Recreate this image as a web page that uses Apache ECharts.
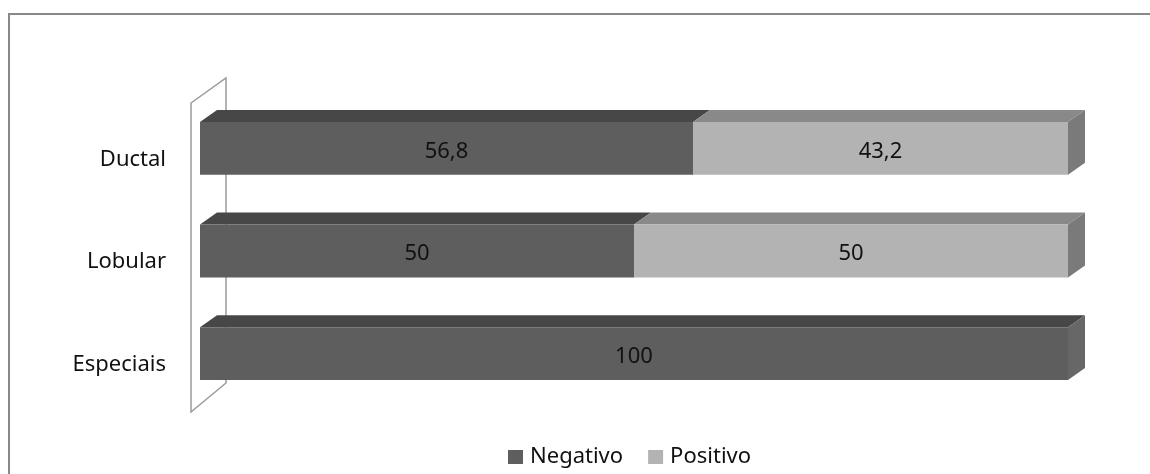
<!DOCTYPE html>
<html>
<head>
<meta charset="utf-8">
<script src="https://cdn.jsdelivr.net/npm/echarts@6/dist/echarts.min.js"></script>
<style>
  html, body { margin: 0; padding: 0; background: #fff; }
  #chart { width: 1150px; height: 474px; }
</style>
</head>
<body>
<div id="chart"></div>
<script>
// Tumour types and the share (%) of negative / positive cases
const categories = ['Ductal', 'Lobular', 'Especiais'];
const negativo = [56.8, 50, 100];
const positivo = [43.2, 50, 0];
const seriesNames = ['Negativo', 'Positivo'];

// Face colours for the pseudo-3D bars
const faces = {
  Negativo: { front: '#5e5e5e', top: '#474747', side: '#676767', legend: '#5e5e5e' },
  Positivo: { front: '#b3b3b3', top: '#898989', side: '#7a7a7a', legend: '#b3b3b3' }
};
const DX = 17, DY = -12;       // depth offset of the extruded faces
const FONT = 'Noto Sans';
const FONT_SIZE = 22;

function fmt(v) {
  return String(Math.round(v * 10) / 10).replace('.', ',');
}

function makeRender(name) {
  const f = faces[name];
  return function (params, api) {
    const x0 = api.value(0), x1 = api.value(1), c = api.value(2);
    if (x1 - x0 <= 0) return;
    const p0 = api.coord([x0, c]);
    const p1 = api.coord([x1, c]);
    const h = api.size([0, 1])[1] * 0.515;
    const top = p0[1] - h / 2;
    const left = p0[0], right = p1[0];
    const children = [
      {
        type: 'polygon',
        shape: { points: [[left, top], [left + DX, top + DY], [right + DX, top + DY], [right, top]] },
        style: { fill: f.top }
      },
      {
        type: 'rect',
        shape: { x: left, y: top, width: right - left, height: h },
        style: { fill: f.front }
      }
    ];
    if (x1 >= 100) {
      children.push({
        type: 'polygon',
        shape: { points: [[right, top], [right + DX, top + DY], [right + DX, top + h + DY], [right, top + h]] },
        style: { fill: f.side }
      });
    }
    children.push({
      type: 'text',
      style: {
        text: fmt(x1 - x0),
        x: (left + right) / 2,
        y: top + h / 2 + 3,
        align: 'center',
        verticalAlign: 'middle',
        fill: '#111',
        font: FONT_SIZE + 'px "' + FONT + '"'
      }
    });
    return { type: 'group', children: children };
  };
}

const negData = negativo.map((v, i) => [0, v, i]);
const posData = positivo.map((v, i) => [negativo[i], negativo[i] + v, i]);

const chart = echarts.init(document.getElementById('chart'), null, { renderer: 'canvas' });

chart.setOption({
  animation: false,
  backgroundColor: '#fff',
  textStyle: { fontFamily: FONT },
  grid: { left: 200, right: 82, top: 97, bottom: 69 },
  xAxis: {
    type: 'value', min: 0, max: 100,
    show: false
  },
  yAxis: {
    type: 'category',
    data: categories,
    inverse: true,
    axisLine: { show: false },
    axisTick: { show: false },
    splitLine: { show: false },
    axisLabel: {
      margin: 34, fontSize: FONT_SIZE, color: '#111', fontFamily: FONT,
      verticalAlign: 'top', lineHeight: 22
    }
  },
  legend: {
    data: seriesNames,
    left: 508,
    top: 446,
    padding: 0,
    icon: 'rect',
    itemWidth: 15,
    itemHeight: 14,
    itemGap: 25,
    textStyle: { fontSize: FONT_SIZE, color: '#111', fontFamily: FONT, padding: [0, 0, 0, 2] }
  },
  graphic: [
    // outer frame
    { type: 'rect', z: 0, shape: { x: 9, y: 14, width: 1160, height: 480 },
      style: { fill: 'none', stroke: '#888', lineWidth: 2 } },
    // back wall of the category axis
    { type: 'polygon', z: 0, shape: { points: [[191, 103], [226, 78], [226, 383], [191, 412]] },
      style: { fill: 'none', stroke: '#9a9a9a', lineWidth: 1.5 } }
  ],
  series: [
    {
      name: 'Negativo', type: 'custom', z: 5,
      itemStyle: { color: faces.Negativo.legend },
      renderItem: makeRender('Negativo'),
      encode: { x: [0, 1], y: 2 },
      data: negData
    },
    {
      name: 'Positivo', type: 'custom', z: 5,
      itemStyle: { color: faces.Positivo.legend },
      renderItem: makeRender('Positivo'),
      encode: { x: [0, 1], y: 2 },
      data: posData
    }
  ]
});
</script>
</body>
</html>
